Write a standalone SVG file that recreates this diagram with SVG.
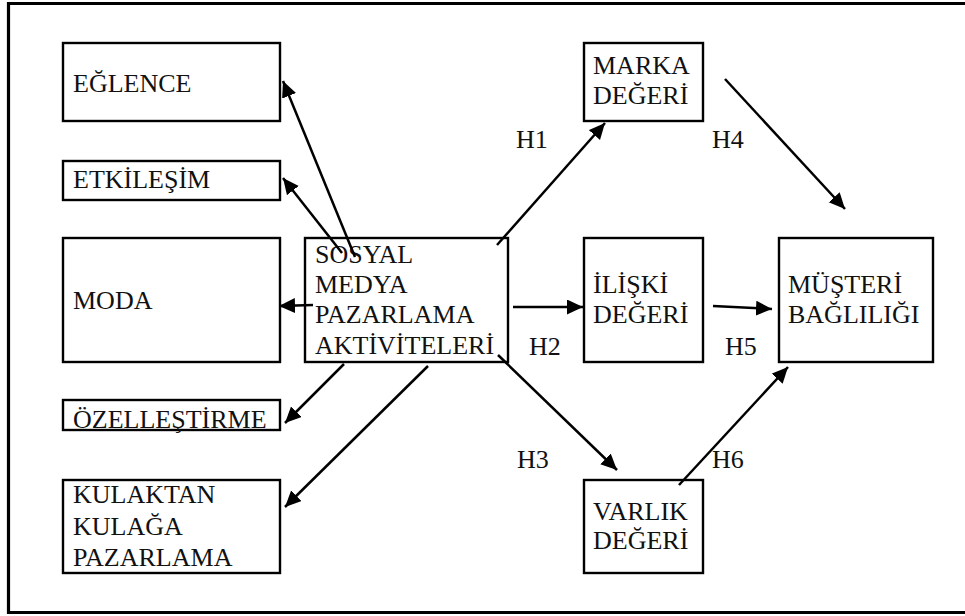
<svg xmlns="http://www.w3.org/2000/svg" width="965" height="616" viewBox="0 0 965 616">
<defs>
<marker id="ah" markerUnits="userSpaceOnUse" markerWidth="18" markerHeight="16" refX="16" refY="7.5" orient="auto">
<path d="M0,0 L16,7.5 L0,15 z" fill="#000"/>
</marker>
<style>
.box{fill:#fff;stroke:#000;stroke-width:2.4}
.t{font-family:"Liberation Serif","Times New Roman",serif;font-size:26px;fill:#111}
.c{stroke:#000;stroke-width:2.5;fill:none;marker-end:url(#ah)}
</style>
</defs>
<rect x="0" y="0" width="965" height="616" fill="#fff"/>
<path d="M968,3.5 L8.5,3.5 L8.5,612.5 L968,612.5" fill="none" stroke="#000" stroke-width="3.2"/>

<g id="eglence"><rect class="box" x="63" y="43" width="217" height="78"/><text class="t" x="73" y="92">EĞLENCE</text></g>
<g id="etkilesim"><rect class="box" x="63" y="161" width="217" height="39"/><text class="t" x="73" y="188">ETKİLEŞİM</text></g>
<g id="moda"><rect class="box" x="63" y="238" width="217" height="124"/><text class="t" x="73" y="309">MODA</text></g>
<g id="ozellestirme"><rect class="box" x="63" y="400" width="217" height="30"/><text class="t" x="73" y="428">ÖZELLEŞTİRME</text></g>
<g id="kulaktan"><rect class="box" x="63" y="480" width="217" height="93"/><text class="t" x="73" y="503">KULAKTAN</text><text class="t" x="73" y="535">KULAĞA</text><text class="t" x="73" y="566">PAZARLAMA</text></g>
<g id="sosyal"><rect class="box" x="305" y="238" width="203" height="124"/><text class="t" x="315" y="263">SOSYAL</text><text class="t" x="315" y="293">MEDYA</text><text class="t" x="315" y="323">PAZARLAMA</text><text class="t" x="315" y="354">AKTİVİTELERİ</text></g>
<g id="marka"><rect class="box" x="584" y="43" width="119" height="78"/><text class="t" x="593" y="74">MARKA</text><text class="t" x="593" y="104">DEĞERİ</text></g>
<g id="iliski"><rect class="box" x="584" y="238" width="119" height="124"/><text class="t" x="593" y="293">İLİŞKİ</text><text class="t" x="593" y="323">DEĞERİ</text></g>
<g id="musteri"><rect class="box" x="779" y="238" width="154" height="124"/><text class="t" x="788" y="293">MÜŞTERİ</text><text class="t" x="788" y="323">BAĞLILIĞI</text></g>
<g id="varlik"><rect class="box" x="584" y="480" width="119" height="93"/><text class="t" x="593" y="520">VARLIK</text><text class="t" x="593" y="549">DEĞERİ</text></g>

<g id="connectors">
<line class="c" x1="355" y1="257" x2="283" y2="81"/>
<line class="c" x1="342" y1="253" x2="283" y2="178"/>
<line class="c" x1="313" y1="305" x2="279" y2="306"/>
<line class="c" x1="344" y1="364" x2="285" y2="423"/>
<line class="c" x1="428" y1="366" x2="285" y2="507"/>
<line class="c" x1="497" y1="245" x2="605" y2="123"/>
<line class="c" x1="513" y1="307" x2="583" y2="307"/>
<line class="c" x1="498" y1="355" x2="617" y2="470"/>
<line class="c" x1="725" y1="79" x2="845" y2="209"/>
<line class="c" x1="713" y1="306" x2="772" y2="309"/>
<line class="c" x1="679" y1="485" x2="788" y2="367"/>
</g>
<g id="labels">
<text class="t" x="516" y="148">H1</text>
<text class="t" x="712" y="148">H4</text>
<text class="t" x="529" y="355">H2</text>
<text class="t" x="725" y="355">H5</text>
<text class="t" x="517" y="468">H3</text>
<text class="t" x="712" y="468">H6</text>
</g>
</svg>
